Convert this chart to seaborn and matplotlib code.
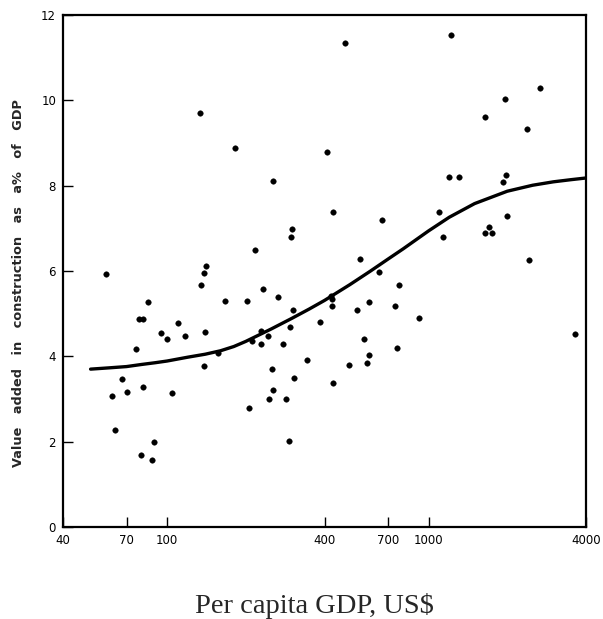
import matplotlib
matplotlib.use("Agg")
import matplotlib.pyplot as plt
import seaborn as sns
import pandas as pd
from matplotlib.ticker import NullLocator

# Scatter data: per capita GDP (US$) and construction share of GDP (%)
gdp = [58.6, 141, 139, 135, 84.3, 167, 77.9, 80.6, 109.8, 95.1, 99.7, 117.4, 139.6,
       76.2, 156, 139, 67.1, 61.7, 70.3, 80.9, 104.4, 63.2, 88.9, 79.3, 87.8,
       134, 181.4, 254.8, 299.6, 298, 217, 233, 266, 479, 410, 430, 662,
       1218, 2660, 1966, 1638, 2373, 1200, 1307, 1983, 1932, 1099, 2000, 1139,
       1702, 1638, 1748, 2415, 916, 3620, 545, 646, 773, 203, 427, 427, 424,
       594, 531, 746, 302, 384, 228, 244, 211, 229, 295, 278, 565, 590, 583,
       759, 498, 342, 251, 306, 430, 255, 245, 285, 206, 292]
share = [5.93, 6.11, 5.95, 5.67, 5.27, 5.29, 4.87, 4.87, 4.77, 4.55, 4.41, 4.48, 4.58,
         4.17, 4.08, 3.78, 3.48, 3.07, 3.16, 3.28, 3.14, 2.27, 2.00, 1.69, 1.58,
         9.71, 8.88, 8.12, 6.99, 6.79, 6.49, 5.58, 5.38, 11.34, 8.80, 7.39, 7.19,
         11.53, 10.30, 10.04, 9.62, 9.32, 8.20, 8.20, 8.24, 8.09, 7.39, 7.29, 6.80,
         7.03, 6.90, 6.90, 6.26, 4.90, 4.52, 6.27, 5.98, 5.67, 5.30, 5.34, 5.19, 5.42,
         5.28, 5.09, 5.19, 5.09, 4.80, 4.59, 4.48, 4.37, 4.28, 4.68, 4.30, 4.40, 4.02, 3.84,
         4.19, 3.80, 3.91, 3.71, 3.49, 3.37, 3.20, 3.00, 2.99, 2.78, 2.02]

# Fitted curve
curve_gdp = [51, 60, 70, 80, 90, 100, 120, 140, 160, 180, 200, 250, 300, 350, 400,
             500, 600, 700, 800, 1000, 1200, 1500, 2000, 2500, 3000, 3500, 4000]
curve_share = [3.70, 3.73, 3.76, 3.81, 3.85, 3.89, 3.98, 4.05, 4.13, 4.23, 4.35, 4.64,
               4.89, 5.11, 5.31, 5.68, 6.00, 6.28, 6.52, 6.94, 7.26, 7.58, 7.87, 8.01,
               8.09, 8.14, 8.18]

x_ticks = [40, 70, 100, 400, 700, 1000, 4000]
x_tick_labels = ["40", "70", "100", "400", "700", "1000", "4000"]
y_ticks = [0, 2, 4, 6, 8, 10, 12]

pts = pd.DataFrame({"gdp": gdp, "share": share})
crv = pd.DataFrame({"gdp": curve_gdp, "share": curve_share})

sns.set_style("ticks")
plt.rcParams["font.family"] = ["DejaVu Sans"]

fig = plt.figure(figsize=(6.03, 6.19), dpi=100)
ax = fig.add_axes([63/603, 1 - 527/619, (586-63)/603, (527-15)/619])

sns.scatterplot(data=pts, x="gdp", y="share", ax=ax, color="black", s=16,
                edgecolor="black", linewidth=0.3, zorder=3)
sns.lineplot(data=crv, x="gdp", y="share", ax=ax, color="black", linewidth=2.4,
             sort=True, estimator=None, zorder=2)

ax.set_xscale("log")
ax.set_xlim(40, 4000)
ax.set_ylim(0, 12)
ax.xaxis.set_minor_locator(NullLocator())
ax.set_xticks(x_ticks)
ax.set_xticklabels(x_tick_labels)
ax.set_yticks(y_ticks)
ax.set_yticklabels([str(v) for v in y_ticks])
ax.tick_params(direction="in", length=7, width=1, labelsize=8.5, colors="black", pad=5)

for sp in ax.spines.values():
    sp.set_visible(True)
    sp.set_linewidth(1.6)
    sp.set_color("black")

ax.set_xlabel("")
ax.set_ylabel("Value   added   in   construction   as   a%   of   GDP", fontsize=9.3,
              fontweight="bold")
ax.yaxis.set_label_coords(-0.073, 0.477)

fig.text(314/603, 1 - 613/619, "Per capita GDP, US$", ha="center", va="baseline",
         fontsize=20.5, family=["Liberation Serif", "DejaVu Serif"])

fig.savefig("out.png", dpi=100)
